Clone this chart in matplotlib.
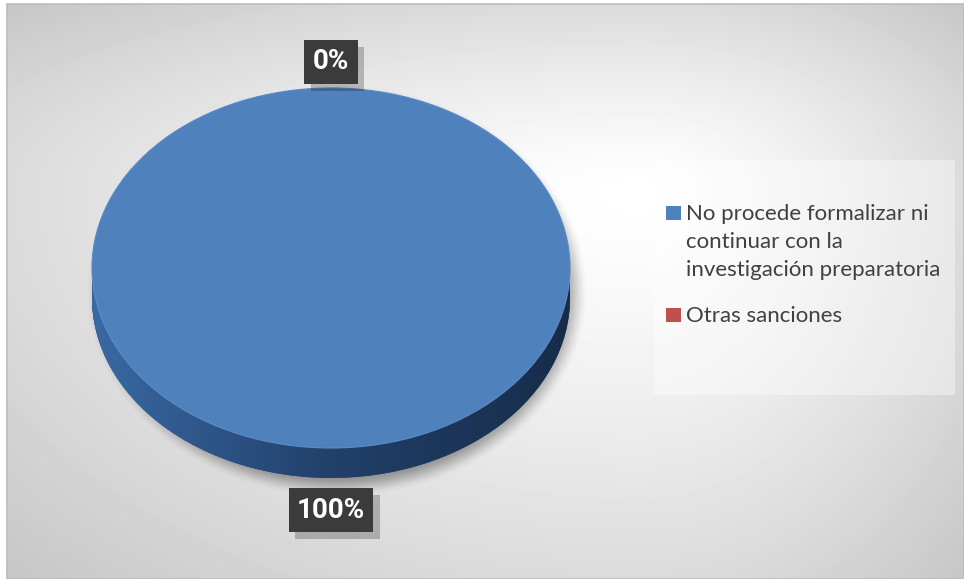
import textwrap
import numpy as np
import matplotlib.pyplot as plt
import matplotlib.patheffects as pe
from matplotlib.patches import Rectangle
from matplotlib.colors import to_rgb

# data
categories = ["No procede formalizar ni continuar con la investigación preparatoria",
              "Otras sanciones"]
percentages = [100, 0]
colors = ["#4F81BD", "#C0504D"]
side_colors = ["#2c5385", "#8c3836"]

W, H = 964, 579
fig = plt.figure(figsize=(W / 100, H / 100), dpi=100)

# background axes in pixel units (y grows downward)
bg = fig.add_axes([0, 0, 1, 1])
bg.set_xlim(0, W)
bg.set_ylim(H, 0)
bg.axis("off")

# off-centre radial fill of the chart area
yy, xx = np.mgrid[0:H, 0:W] + 0.5
fx, fy = 640, 190
nx = np.where(xx < fx, (xx - fx) / (fx - 7), (xx - fx) / (W - fx))
ny = np.where(yy < fy, (yy - fy) / (fy - 4), (yy - fy) / (H - fy))
d = np.clip(np.sqrt(nx ** 2 + ny ** 2) / np.sqrt(2), 0, 1)
shade = 1 - (1 - 198 / 255) * d ** 1.3
shade[:, :7] = 1
shade[:4, :] = 1
bg.imshow(shade, cmap="gray", vmin=0, vmax=1, extent=(0, W, H, 0),
          aspect="auto", interpolation="bilinear", zorder=0)
bg.add_patch(Rectangle((7, 4), W - 7, H - 4, fill=False, ec="#bcbcbc", lw=1.2, zorder=1))

# pie geometry (pixels)
cx, cy, rx, ry, depth = 331, 268, 239, 180, 30

# soft drop shadow under the pie
sx, sy = cx + 6, cy + depth / 2 + 8
srx, sry = rx + 13, ry + depth / 2 + 12
q = np.sqrt(((xx - sx) / srx) ** 2 + ((yy - sy) / sry) ** 2)
t = np.clip((1.0 - q) / 0.11, 0, 1)
alpha = 0.36 * t * t * (3 - 2 * t)
shadow = np.zeros((H, W, 4))
shadow[..., 3] = alpha
bg.imshow(shadow, extent=(0, W, H, 0), aspect="auto", interpolation="bilinear", zorder=2)

# pie axes: unit circle stretched to an ellipse rx x ry
pax = fig.add_axes([0, 0, 1, 1])
pax.patch.set_alpha(0)
du = depth / ry

# side of the pie built from stacked pies
n = 32
bottom_wedges = None
for k in range(n):
    off = du * (1 - k / (n - 1))
    ws, _ = pax.pie(percentages, colors=side_colors, startangle=90, counterclock=False,
                    center=(0, -off), radius=1, wedgeprops=dict(linewidth=0))
    if bottom_wedges is None:
        bottom_wedges = ws

# horizontal shading on the side wall
c_left, c_mid, c_right = map(np.array, (to_rgb("#3a69a3"), to_rgb("#21406a"), to_rgb("#182c49")))
u = np.linspace(0, 1, 256)[:, None]
grad = np.where(u < 0.5, c_left + (c_mid - c_left) * (u / 0.5),
                c_mid + (c_right - c_mid) * ((u - 0.5) / 0.5))
grad = np.repeat(grad[None, :, :], 2, axis=0)
im = pax.imshow(grad, extent=(-1, 1, -1 - du, 1 - du), aspect="auto", zorder=1.5)
im.set_clip_path(bottom_wedges[0])

# top face
top_wedges, _ = pax.pie(percentages, colors=colors, startangle=90, counterclock=False,
                        wedgeprops=dict(linewidth=0.8, edgecolor="#5a8cc9"))
for w in top_wedges:
    w.set_zorder(2)
top_wedges[1].set_edgecolor("none")

pax.set_aspect("auto")
pax.set_xlim((0 - cx) / rx, (W - cx) / rx)
pax.set_ylim((cy - H) / ry, cy / ry)
pax.axis("off")

# percentage labels outside each wedge
for w, p in zip(top_wedges, percentages):
    mid = np.deg2rad((w.theta1 + w.theta2) / 2)
    lx, ly = 1.145 * np.cos(mid), 1.145 * np.sin(mid)
    if ly < 0:
        ly -= du * 1.2
    txt = pax.text(lx, ly, f"{p:.0f}%", ha="center", va="center", color="white",
                   fontsize=20, fontweight="bold", family=["Roboto", "DejaVu Sans"], zorder=5,
                   bbox=dict(boxstyle="square,pad=0.3", fc="#3b3b3b", ec="none"))
    txt.get_bbox_patch().set_path_effects(
        [pe.withSimplePatchShadow(offset=(5, -5), shadow_rgbFace="black", alpha=0.22)])

# legend panel
bg.add_patch(Rectangle((654, 160), 301, 235, fc="white", ec="none", alpha=0.38, zorder=3))
tx, base, step = 686, 220, 28
for cat, col in zip(categories, colors):
    lines = textwrap.wrap(cat, 26)
    bg.add_patch(Rectangle((666, base - 14), 15, 14, fc=col, ec="none", zorder=4))
    for i, line in enumerate(lines):
        bg.text(tx, base + i * step, line, ha="left", va="baseline", color="#404040",
                fontsize=16, family=["Lato", "DejaVu Sans"], zorder=4)
    base += (len(lines) - 1) * step + 46

fig.savefig("out.png", dpi=100)
